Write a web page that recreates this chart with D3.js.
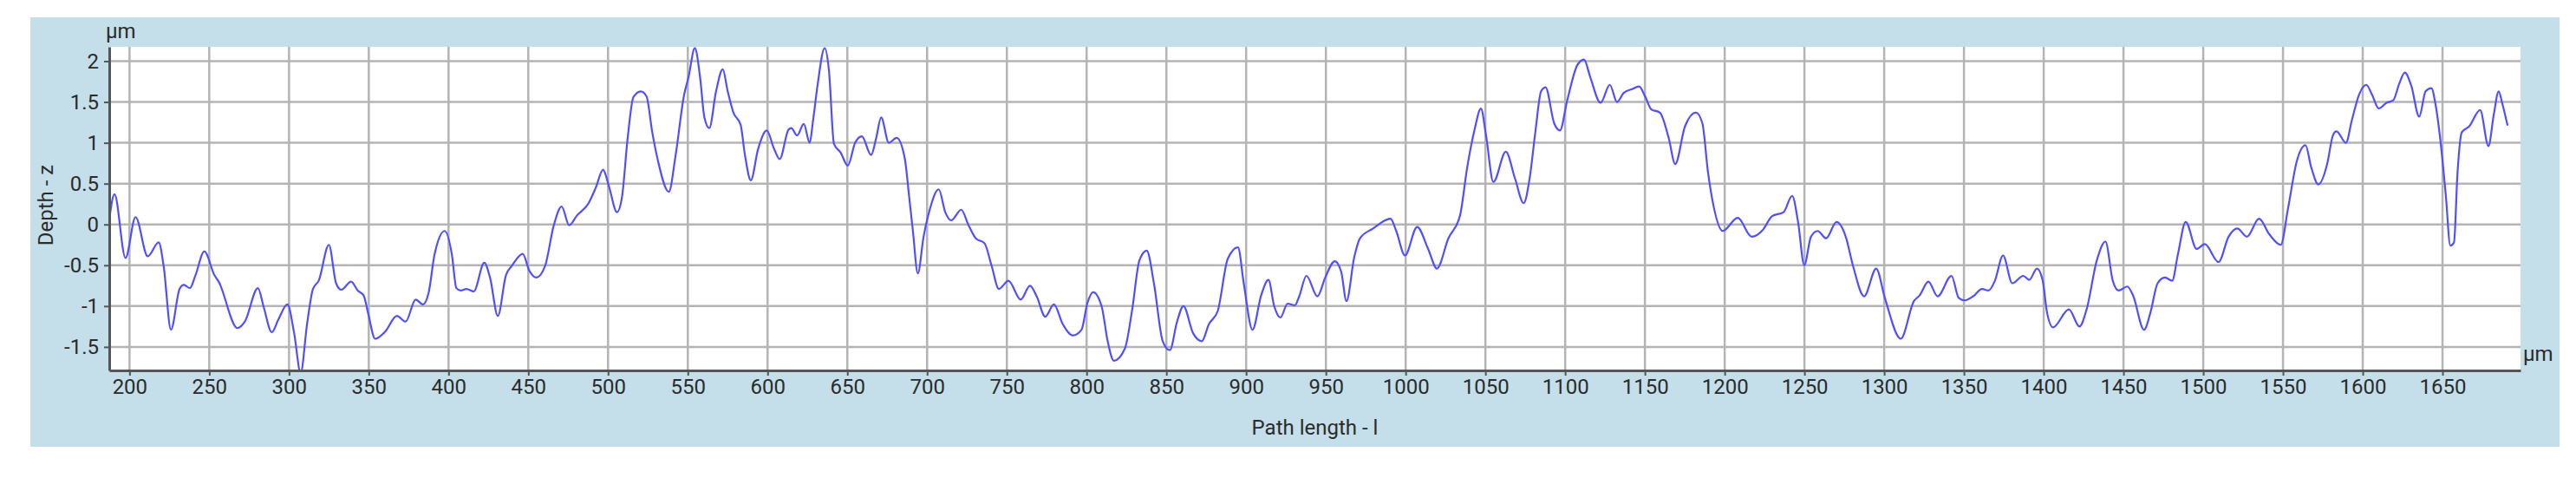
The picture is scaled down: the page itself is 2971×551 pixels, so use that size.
<!DOCTYPE html>
<html>
<head>
<meta charset="utf-8">
<script src="https://cdn.jsdelivr.net/npm/d3@7"></script>
<style>
body { margin: 0; background: #fff; }
text { font-family: Roboto, "Liberation Sans", sans-serif; fill: #2b2b2b; }
</style>
</head>
<body>
<svg width="2971" height="551"></svg>
<script>
// profile: path length (µm) and depth (µm)
var pathLength = [187.3, 190.6, 197.5, 203.8, 211.4, 218.3, 221.4, 226.0, 231.4, 234.1, 237.8, 241.4, 246.9, 253.2, 255.9, 267.7, 272.3, 280.5, 284.1, 289.2, 293.2, 299.0, 303.2, 307.3, 311.3, 315.0, 318.6, 325.0, 329.5, 332.8, 338.9, 343.1, 346.8, 349.5, 354.0, 360.4, 367.6, 373.1, 379.4, 384.0, 387.6, 391.2, 397.6, 402.1, 404.9, 407.6, 411.2, 415.8,
  422.4, 426.0, 430.9, 436.0, 439.6, 446.5, 450.5, 455.1, 460.5, 466.0, 470.9, 475.6, 480.5, 487.8, 492.3, 496.9, 500.5, 505.6, 508.7, 512.3, 515.9, 520.5, 524.1, 527.7, 531.4, 538.1, 542.3, 547.7, 550.4, 554.4, 557.7, 560.4, 563.5, 567.7, 571.9, 575.0, 578.6, 583.1, 585.9, 589.5, 594.0, 599.5, 604.0, 607.6, 613.1, 614.9, 618.5, 622.7, 626.4, 628.5, 631.3, 635.8, 638.5, 641.6, 645.8, 650.3, 654.9, 659.1, 664.9, 668.0, 671.2,
  676.0, 680.9, 686.0, 688.7, 691.1, 694.2, 697.8, 701.5, 707.3, 711.4, 715.1, 721.4, 726.0, 730.5, 736.0, 740.5, 745.0, 751.0, 758.7, 764.5, 768.7, 774.1, 779.5, 785.0, 791.4, 796.8, 800.4, 804.1, 809.5, 813.2, 817.1, 824.0, 828.6, 833.1, 837.7, 842.2, 847.7, 852.2, 856.7, 860.7, 866.7, 872.2, 876.7, 882.2, 888.5, 894.9, 898.5, 904.0, 909.4, 914.0, 917.6, 921.5,
  926.0, 930.6, 933.3, 937.8, 944.7, 949.6, 955.6, 959.6, 962.9, 967.8, 971.4, 979.6, 990.5, 994.1, 999.6, 1007.2, 1014.1, 1019.6, 1026.8, 1034.1, 1038.6, 1043.2, 1047.2, 1050.4, 1055.0, 1062.8, 1068.6, 1074.0, 1077.7, 1081.3, 1084.9, 1087.7, 1093.1, 1096.7, 1101.3, 1107.6, 1111.8, 1115.8, 1122.2, 1128.0, 1132.5, 1136.7, 1142.2, 1146.3, 1150.3, 1154.0, 1159.4, 1164.9, 1169.0,
  1175.1, 1182.0, 1186.0, 1189.6, 1193.3, 1198.7, 1208.2, 1216.9, 1224.2, 1229.6, 1236.9, 1242.3, 1246.0, 1249.9, 1254.1, 1258.3, 1263.6, 1270.1, 1275.9, 1280.5, 1287.4, 1295.0, 1300.4, 1310.4, 1318.6, 1322.2, 1327.7, 1333.5, 1342.2, 1346.7, 1350.4, 1355.8, 1361.3, 1365.4, 1369.4, 1374.5, 1380.3, 1387.2, 1390.9, 1395.8, 1399.4, 1402.1, 1405.8, 1415.8, 1422.4,
  1426.9, 1433.3, 1438.7, 1443.3, 1446.9, 1452.4, 1456.0, 1462.9, 1466.9, 1471.4, 1476.0, 1480.5, 1484.1, 1489.0, 1495.9, 1501.0, 1509.6, 1515.9, 1521.4, 1527.4, 1535.0, 1541.4, 1548.6, 1553.2, 1558.6, 1564.1, 1567.7, 1572.2, 1577.7, 1581.3, 1583.5, 1589.5, 1593.1, 1597.7, 1602.2, 1605.8, 1610.0, 1614.9, 1619.1, 1623.0, 1626.4, 1630.4, 1635.4, 1639.4, 1643.0, 1645.8, 1648.9, 1652.1, 1654.9, 1657.2, 1659.4, 1662.1, 1666.7, 1673.6, 1678.8, 1682.1, 1685.2, 1687.5, 1690.8];

var depth = [0.06, 0.37, -0.41, 0.09, -0.39, -0.22, -0.51, -1.29, -0.79, -0.74, -0.78, -0.62, -0.33, -0.62, -0.70, -1.27, -1.19, -0.78, -1.01, -1.32, -1.17, -0.98, -1.33, -1.82, -1.22, -0.79, -0.69, -0.25, -0.72, -0.80, -0.70, -0.81, -0.87, -1.08, -1.40, -1.31, -1.12, -1.19, -0.92, -0.98, -0.83, -0.37, -0.08, -0.37, -0.78, -0.81, -0.79, -0.82,
  -0.47, -0.65, -1.12, -0.62, -0.51, -0.36, -0.56, -0.65, -0.51, -0.01, 0.22, -0.01, 0.11, 0.26, 0.45, 0.67, 0.47, 0.15, 0.33, 1.06, 1.56, 1.63, 1.57, 1.13, 0.77, 0.40, 0.84, 1.59, 1.80, 2.16, 1.80, 1.31, 1.18, 1.63, 1.90, 1.63, 1.37, 1.22, 0.84, 0.54, 0.92, 1.15, 0.93, 0.80, 1.16, 1.18, 1.09, 1.23, 1.00, 1.27, 1.70, 2.16, 1.88, 0.99, 0.88, 0.72, 1.00, 1.08, 0.85, 1.05, 1.31,
  1.00, 1.06, 0.81, 0.35, -0.08, -0.60, -0.15, 0.17, 0.43, 0.15, 0.05, 0.18, -0.01, -0.17, -0.23, -0.51, -0.79, -0.69, -0.92, -0.75, -0.88, -1.13, -0.98, -1.22, -1.36, -1.29, -0.97, -0.83, -1.01, -1.43, -1.67, -1.52, -1.04, -0.44, -0.32, -0.72, -1.43, -1.54, -1.19, -1.00, -1.33, -1.43, -1.22, -1.06, -0.42, -0.28, -0.72, -1.29, -0.87, -0.68, -1.00, -1.14,
  -0.97, -0.99, -0.88, -0.63, -0.88, -0.65, -0.45, -0.58, -0.94, -0.40, -0.17, -0.05, 0.07, -0.08, -0.38, -0.03, -0.30, -0.54, -0.17, 0.11, 0.70, 1.16, 1.42, 1.09, 0.52, 0.89, 0.56, 0.26, 0.56, 1.13, 1.63, 1.68, 1.24, 1.15, 1.52, 1.95, 2.02, 1.80, 1.49, 1.71, 1.50, 1.61, 1.66, 1.69, 1.56, 1.41, 1.37, 1.06, 0.74,
  1.20, 1.37, 1.24, 0.63, 0.20, -0.08, 0.08, -0.15, -0.06, 0.10, 0.15, 0.35, 0.03, -0.50, -0.15, -0.08, -0.17, 0.03, -0.15, -0.51, -0.88, -0.54, -0.90, -1.40, -0.94, -0.87, -0.70, -0.88, -0.63, -0.90, -0.93, -0.88, -0.79, -0.81, -0.69, -0.38, -0.72, -0.63, -0.68, -0.54, -0.69, -1.08, -1.26, -1.04, -1.25,
  -1.04, -0.44, -0.21, -0.69, -0.81, -0.76, -0.87, -1.29, -1.08, -0.72, -0.65, -0.69, -0.37, 0.03, -0.30, -0.24, -0.46, -0.15, -0.05, -0.15, 0.07, -0.12, -0.25, 0.20, 0.77, 0.97, 0.70, 0.49, 0.74, 1.09, 1.14, 1.00, 1.27, 1.59, 1.71, 1.59, 1.42, 1.49, 1.52, 1.73, 1.86, 1.70, 1.32, 1.63, 1.67, 1.45, 0.99, 0.35, -0.26, -0.22, 0.63, 1.13, 1.20, 1.40, 0.96, 1.34, 1.63, 1.48, 1.21];

var xTicks = [200, 250, 300, 350, 400, 450, 500, 550, 600, 650, 700, 750, 800, 850, 900, 950, 1000, 1050, 1100, 1150, 1200, 1250, 1300, 1350, 1400, 1450, 1500, 1550, 1600, 1650];
var yTicks = [-1.5, -1, -0.5, 0, 0.5, 1, 1.5, 2];

var svg = d3.select("svg"),
  margin = {
    top: 54,
    right: 64,
    bottom: 124,
    left: 126
  },
  width = +svg.attr("width") - margin.left - margin.right,
  height = +svg.attr("height") - margin.top - margin.bottom;

var data = pathLength.map(function(d, i) {
  return { l: d, z: depth[i] };
});

var x = d3.scaleLinear().domain([187.3, 1698.9]).range([0, width]),
  y = d3.scaleLinear().domain([-1.788, 2.175]).range([height, 0]);

// light blue frame behind the chart
svg.append("rect")
  .attr("x", 35)
  .attr("y", 20)
  .attr("width", 2917)
  .attr("height", 495)
  .attr("fill", "#c4dfe9");

var g = svg.append("g")
  .attr("transform", "translate(" + margin.left + "," + margin.top + ")");

g.append("rect")
  .attr("width", width)
  .attr("height", height)
  .attr("fill", "#fff");

g.append("clipPath")
  .attr("id", "plot-clip")
  .append("rect")
  .attr("width", width)
  .attr("height", height);

// grid
g.append("g")
  .selectAll("line")
  .data(xTicks)
  .enter()
  .append("line")
  .attr("x1", function(d) { return x(d); })
  .attr("x2", function(d) { return x(d); })
  .attr("y1", 0)
  .attr("y2", height)
  .attr("stroke", "#b4b4b4")
  .attr("stroke-width", 2.5);

g.append("g")
  .selectAll("line")
  .data(yTicks)
  .enter()
  .append("line")
  .attr("x1", 0)
  .attr("x2", width)
  .attr("y1", function(d) { return y(d); })
  .attr("y2", function(d) { return y(d); })
  .attr("stroke", "#b4b4b4")
  .attr("stroke-width", 2.5);

var line = d3.line()
  .x(function(d) { return x(d.l); })
  .y(function(d) { return y(d.z); })
  .curve(d3.curveMonotoneX);

g.append("path")
  .datum(data)
  .attr("clip-path", "url(#plot-clip)")
  .attr("fill", "none")
  .attr("stroke", "#4f4fff")
  .attr("stroke-width", 2.2)
  .attr("d", line);

var xAxis = g.append("g")
  .attr("transform", "translate(0," + height + ")")
  .call(d3.axisBottom(x).tickValues(xTicks).tickSize(6).tickPadding(4).tickSizeOuter(0).tickFormat(d3.format("d")));

var yAxis = g.append("g")
  .call(d3.axisLeft(y).tickValues(yTicks).tickSize(6).tickPadding(6).tickSizeOuter(0).tickFormat(function(d) { return String(d); }));

[xAxis, yAxis].forEach(function(a) {
  a.select(".domain").attr("stroke", "#555").attr("stroke-width", 3);
  a.selectAll(".tick line").attr("stroke", "#555").attr("stroke-width", 2);
  a.selectAll("text").attr("font-size", 24).attr("font-family", "Roboto, sans-serif").attr("fill", "#2b2b2b");
});

// unit and axis titles
svg.append("text")
  .attr("x", 122)
  .attr("y", 44)
  .attr("font-size", 24)
  .text("µm");

svg.append("text")
  .attr("x", 2910)
  .attr("y", 416)
  .attr("font-size", 24)
  .text("µm");

svg.append("text")
  .attr("transform", "translate(61," + (margin.top + height / 2 - 4) + ") rotate(-90)")
  .attr("text-anchor", "middle")
  .attr("font-size", 24)
  .text("Depth - z");

svg.append("text")
  .attr("x", margin.left + width / 2)
  .attr("y", 501)
  .attr("text-anchor", "middle")
  .attr("font-size", 24)
  .text("Path length - l");
</script>
</body>
</html>
